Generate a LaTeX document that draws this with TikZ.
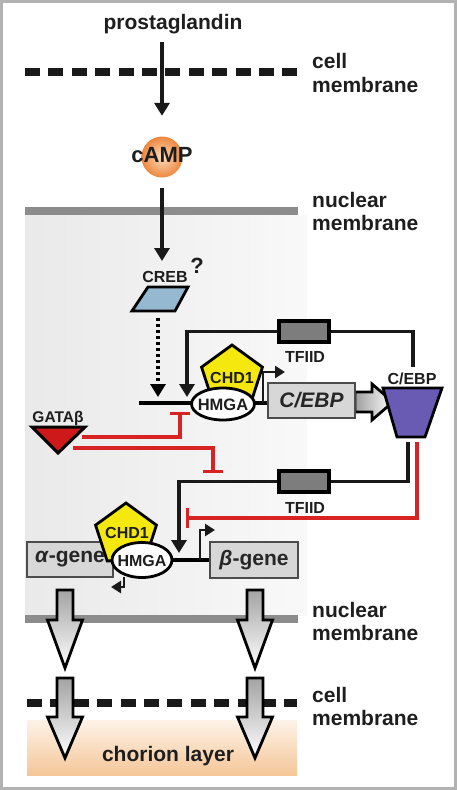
\documentclass[tikz,border=0pt]{standalone}
\usepackage{fontspec}
\setmainfont{Liberation Sans}
\usetikzlibrary{shapes.geometric,arrows.meta}
\definecolor{memgray}{RGB}{140,140,140}
\definecolor{inhred}{RGB}{215,35,35}
\definecolor{chdyellow}{RGB}{245,232,15}
\definecolor{crebblue}{RGB}{150,185,210}
\definecolor{cebppurple}{RGB}{105,90,180}
\definecolor{gatared}{RGB}{205,25,25}
\definecolor{tfgray}{RGB}{125,125,125}
\definecolor{genegray}{RGB}{215,215,215}
\definecolor{textdark}{RGB}{30,30,30}
\definecolor{campin}{RGB}{253,222,190}
\definecolor{campout}{RGB}{236,135,62}
\definecolor{chortop}{RGB}{253,243,232}
\definecolor{chorbot}{RGB}{245,198,152}
\begin{document}
\begin{tikzpicture}[x=1pt,y=-1pt,
  big/.style={font=\fontsize{21}{24}\selectfont\bfseries, text=textdark, inner sep=0pt},
  small/.style={font=\fontsize{16}{18}\selectfont\bfseries, text=textdark, inner sep=0pt},
  blk/.style={line width=3.3pt, draw=black!90, -{Triangle[width=15pt,length=13pt]}},
  lw/.style={line width=3.3pt, draw=black!90},
  smallarr/.style={line width=2.8pt, draw=black!90, -{Triangle[width=12pt,length=10pt]}},
  inh/.style={draw=inhred, line width=3.2pt, -{Bar[width=20pt]}},
  nucmem/.style={line width=8pt, draw=memgray},
  cellmem/.style={line width=8.5pt, draw=black!90, dash pattern=on 15pt off 8.4pt},
  genebox/.style={draw=black!70, line width=1.8pt, fill=genegray, minimum height=35pt, inner sep=0pt, font=\fontsize{21}{24}\selectfont\bfseries, text=black!85},
  tfiid/.style={draw=black, line width=3.2pt, fill=tfgray, minimum width=50pt, minimum height=21pt, inner sep=0pt},
  hmga/.style={ellipse, draw=black, line width=2.8pt, fill=white, inner sep=0pt},
  chd/.style={regular polygon, regular polygon sides=5, draw=black, line width=2.8pt, fill=chdyellow, minimum size=64pt, inner sep=0pt},
  blockarr/.style={draw=black, line width=2.8pt, top color=gray!72, bottom color=white},
]
\useasboundingbox (0,0) rectangle (457,790);
% backgrounds
\fill[left color=gray!17, right color=gray!5] (25,215) rectangle (307,615);
\shade[top color=chortop, bottom color=chorbot] (27,720) rectangle (297,775);
\draw[gray!60, line width=3pt] (1.5,1.5) rectangle (455.5,788.5);

% membranes
\draw[cellmem] (25,72) -- (297,72);
\draw[nucmem] (25,211) -- (298,211);
\draw[nucmem] (25,619) -- (298,619);
\draw[cellmem] (27,703) -- (297,703);

% membrane labels
\node[big, anchor=base west] (lc1) at (312,68) {cell};
\node[big, anchor=base west] (lm1) at (312,92) {membrane};
\node[big, anchor=base west] (ln2) at (312,207) {nuclear};
\node[big, anchor=base west] (lm2) at (312,230) {membrane};
\node[big, anchor=base west] (ln3) at (312,617) {nuclear};
\node[big, anchor=base west] (lm3) at (312,640) {membrane};
\node[big, anchor=base west] (lc4) at (312,702) {cell};
\node[big, anchor=base west] (lm4) at (312,725) {membrane};

% top signalling
\node[big, anchor=base] (pg) at (173,29) {prostaglandin};
\node[circle, inner color=campin, outer color=campout, minimum size=41pt, inner sep=0pt] (camp) at (162,157) {};
\node[font=\fontsize{22}{24}\selectfont\bfseries, text=textdark, inner sep=0pt] (camptxt) at (162,155) {cAMP};
\draw[blk, shorten <=8.5pt, shorten >=20.5pt] (pg.south -| camp.north) -- (camp.north);
\coordinate (crebtip) at (162,261);
\draw[blk, shorten <=10pt] (camp.south) -- (crebtip);

% CREB
\coordinate (creb) at (160,299);
\draw[line width=2.8pt, fill=crebblue] (148,287) -- (188,287) -- (175,311) -- (132,311) -- cycle;
\node[small] (crebl) at (165,277) {CREB};
\node[font=\fontsize{22}{24}\selectfont\bfseries, text=textdark, inner sep=0pt] (q) at (197,266) {?};
\coordinate (crebB) at (158,311);
\coordinate (prom1a) at (158,397);
\draw[line width=3.6pt, dash pattern=on 3pt off 3pt, -{Triangle[width=15pt,length=13pt]}, shorten <=7pt] (crebB) -- (prom1a);

% upper promoter
\coordinate (dnaL1) at (139,403);
\node[genebox, minimum width=87pt, font=\fontsize{21}{24}\selectfont\bfseries\itshape] (cebpg) at (311.5,400.5) {C/EBP};
\draw[line width=4.8pt] (dnaL1) -- (cebpg.west |- dnaL1);
\coordinate (tss1) at (263,402);
\coordinate (tss1e) at (285,372);
\draw[smallarr] (tss1) |- (tss1e);
\node[chd] (chd1) at (232,377) {};
\node[hmga, minimum width=63pt, minimum height=32pt] (hm1) at (223,404) {};
\node[small] (chd1l) at (232,378) {CHD1};
\node[small, font=\fontsize{16.5}{18}\selectfont\bfseries] (hm1l) at (223,405) {HMGA};

% block arrow to protein
\draw[line width=2.8pt, left color=gray!75, right color=white] (355,392) -- (372,392) -- (372,384) -- (393,402) -- (372,420) -- (372,412) -- (355,412) -- cycle;
\node[genebox, minimum width=87pt, font=\fontsize{21}{24}\selectfont\bfseries\itshape] at (311.5,400.5) {C/EBP};

% C/EBP protein
\coordinate (cebpp) at (412,412);
\draw[line width=2.8pt, fill=cebppurple] (383,388) -- (442,388) -- (425,437) -- (397,437) -- cycle;
\node[small] (cebpl) at (412,379) {C/EBP};

% upper loop with TFIID
\coordinate (loop1s) at (413,367);
\coordinate (prom1b) at (187,397);
\node[tfiid] (tf1) at (304,331.5) {};
\node[small] (tf1l) at (305,357) {TFIID};
\draw[lw] (loop1s) |- (tf1.east);
\draw[blk] (tf1.west) -| (prom1b);
\node[tfiid] at (304,331.5) {};

% GATA
\coordinate (gata) at (58,436);
\draw[line width=3pt, fill=gatared] (32,427) -- (85,427) -- (58,453) -- cycle;
\node[small, font=\fontsize{15.5}{18}\selectfont\bfseries] (gatal) at (58,418) {GATAβ};
\coordinate (gataR1) at (82,437);
\coordinate (gataR2) at (73,448);
\coordinate (inhb1) at (180,412);
\coordinate (inhb2) at (213,473);
\draw[inh] (gataR1) -| (inhb1);
\draw[inh] (gataR2) -| (inhb2);

% lower loop
\coordinate (loop2s) at (408,442);
\coordinate (prom2) at (179,553);
\node[tfiid] (tf2) at (304,481.5) {};
\node[small] (tf2l) at (305,508) {TFIID};
\draw[lw] (loop2s) |- (tf2.east);
\draw[blk] (tf2.west) -| (prom2);
\node[tfiid] at (304,481.5) {};
\coordinate (redS) at (417,442);
\coordinate (inhb3) at (186,518);
\draw[inh] (redS) |- (inhb3);

% lower genes
\node[genebox, minimum width=86pt] (ag) at (70,559.5) {\textit{α}-gene};
\node[genebox, minimum width=88pt, minimum height=36pt] (bg) at (254,560) {\textit{β}-gene};
\coordinate (dna2) at (150,560);
\draw[line width=4.8pt] (dna2) -- (bg.west |- dna2);
\coordinate (tss2) at (200,560);
\coordinate (tss2e) at (215,530);
\draw[smallarr] (tss2) |- (tss2e);
\node[chd] (chd2) at (126,535) {};
\node[hmga, minimum width=60pt, minimum height=35pt] (hm2) at (142,560) {};
\node[small] (chd2l) at (127,533) {CHD1};
\node[small] (hm2l) at (142,561) {HMGA};
\coordinate (bendS) at (124,577);
\coordinate (bendE) at (111,587);
\draw[smallarr] (bendS) |- (bendE);

% block arrows down
\draw[blockarr] (57,590) -- (73,590) -- (73,620) -- (82.5,620) -- (65,668) -- (47.5,620) -- (57,620) -- cycle;
\draw[blockarr] (247,590) -- (263,590) -- (263,620) -- (272.5,620) -- (255,668) -- (237.5,620) -- (247,620) -- cycle;
\draw[blockarr] (57,678) -- (73,678) -- (73,717) -- (82.5,717) -- (65,758) -- (47.5,717) -- (57,717) -- cycle;
\draw[blockarr] (247,678) -- (263,678) -- (263,717) -- (272.5,717) -- (255,758) -- (237.5,717) -- (247,717) -- cycle;

\node[big, anchor=base] (chor) at (168,761) {chorion layer};
\end{tikzpicture}
\end{document}
